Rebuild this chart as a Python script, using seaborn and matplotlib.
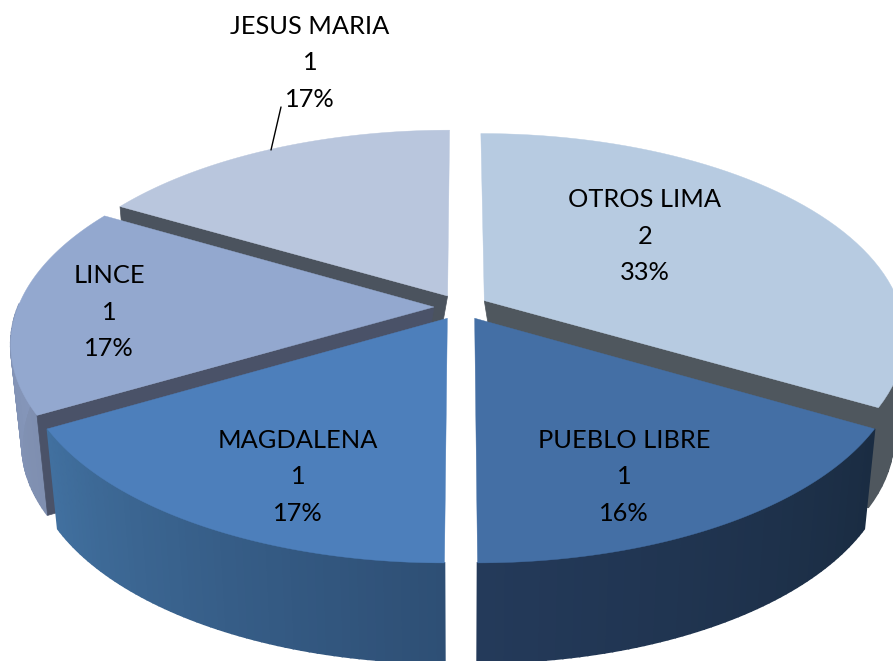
import numpy as np
import seaborn as sns
import matplotlib.pyplot as plt

# datos
categorias = ["OTROS LIMA", "PUEBLO LIBRE", "MAGDALENA", "LINCE", "JESUS MARIA"]
valores = [2, 1, 1, 1, 1]
porcentajes = ["33%", "16%", "17%", "17%", "17%"]

# estilo de cada porcion, mismo orden que categorias
color_tapa = ["#b7cbe1", "#446fa5", "#4d7fbb", "#93a8cf", "#b9c6dd"]
color_corte = ["#4f575e", None, None, "#4a5268", "#4b535e"]
pared_ini = ["#4f575e", "#1a2c42", "#2e4f75", "#7f8fb0", "#8f9db5"]
pared_fin = ["#4f575e", "#243a5a", "#41709f", "#8a9cc2", "#8f9db5"]
cara_ang = [1, None, None, 0, 0]  # 0 = borde inicial, 1 = borde final
pos_texto = [(645, 236), (624, 477), (298, 477), (109, 312), (310, 63)]

# parametros de la perspectiva (pixeles)
CX, CY = 461, 307
RX, RY = 416, 198
K = 0.173
EXPLODE = 0.065
ALTO = 100
ENCOGE = 0.975


def proyectar(th, r, medio):
    # th y medio en radianes, horario desde arriba
    u = r * np.sin(th) + EXPLODE * np.sin(medio)
    v = r * np.cos(th) + EXPLODE * np.cos(medio)
    f = 1 / (1 + K * v)
    return CX + RX * u * f, CY - RY * v * f


def abajo(x, y):
    return CX + (x - CX) * ENCOGE, y + ALTO


def cara_corte(ax, th, medio, color, z):
    x0, y0 = proyectar(th, 0, medio)
    x1, y1 = proyectar(th, 1, medio)
    x2, y2 = abajo(x1, y1)
    # la esquina interior de abajo va un poco adentro para que no asome por el hueco
    x3, y3 = abajo(*proyectar(th, 0.05, medio))
    ax.fill([x0, x1, x2, x3], [y0, y1, y2, y3], color=color, lw=0.5, zorder=z)


sns.set_theme(style="white")
plt.rcParams["font.family"] = ["Lato", "DejaVu Sans"]

fig, ax = plt.subplots(figsize=(8.93, 6.61), dpi=100)
fig.patch.set_facecolor("white")
ax.set_position([0, 0, 1, 1])
ax.set_xlim(0, 893)
ax.set_ylim(661, 0)
ax.axis("off")

fracs = np.array(valores) / sum(valores)
fin = np.cumsum(fracs) * 2 * np.pi
ini = fin - fracs * 2 * np.pi

# de atras hacia adelante
orden = [4, 0, 3, 1, 2]
for z, i in enumerate(orden):
    medio = (ini[i] + fin[i]) / 2
    ths = np.linspace(ini[i], fin[i], 61)
    xs, ys = proyectar(ths, 1, medio)
    xb, yb = abajo(xs, ys)

    # pared exterior con degradado, solo la parte que mira al frente
    tonos = sns.blend_palette([pared_ini[i], pared_fin[i]], n_colors=60)
    for j in range(60):
        if np.cos(ths[j]) > 0:
            continue
        ax.fill([xs[j], xs[j + 1], xb[j + 1], xb[j]],
                [ys[j], ys[j + 1], yb[j + 1], yb[j]],
                color=tonos[j], lw=1.2, zorder=z * 10)

    # cara de corte que mira al frente
    if cara_ang[i] is not None:
        th_corte = fin[i] if cara_ang[i] else ini[i]
        cara_corte(ax, th_corte, medio, color_corte[i], z * 10 + 1)

    # tapa
    x0, y0 = proyectar(ini[i], 0, medio)
    ax.fill(np.r_[x0, xs], np.r_[y0, ys], color=color_tapa[i], lw=0.3, zorder=z * 10 + 2)

for cat, val, pct, (tx, ty) in zip(categorias, valores, porcentajes, pos_texto):
    ax.text(tx, ty, f"{cat}\n{val}\n{pct}", ha="center", va="center",
            fontsize=18.3, color="black", linespacing=1.72, zorder=100)

# linea guia de JESUS MARIA
ax.plot([271, 281], [150, 107], color="black", lw=1, zorder=100)

plt.savefig("out.png", dpi=100)
plt.close()
